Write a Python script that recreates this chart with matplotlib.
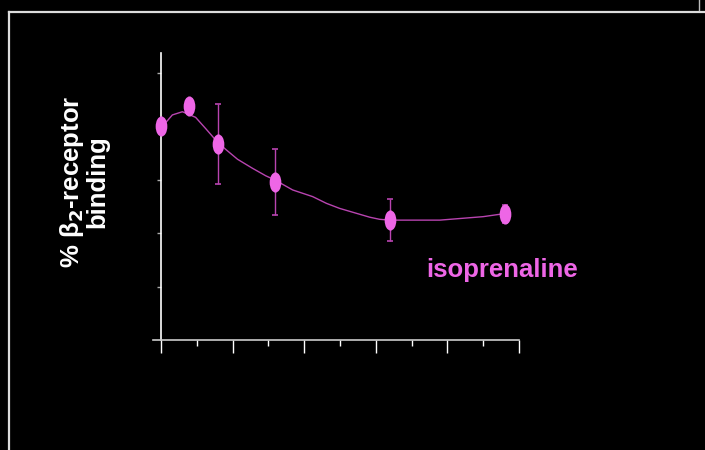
import matplotlib
matplotlib.use('Agg')
import matplotlib.pyplot as plt
from matplotlib.path import Path
from matplotlib.transforms import Affine2D
from matplotlib.lines import Line2D

# -------------------------
# Data
# -------------------------
pt_x = [0.0, 0.78, 1.6, 3.2, 6.4, 9.6]
pt_y = [80, 87.6, 73.4, 59.2, 44.9, 47.2]
pt_err = [0, 0, 15.0, 12.3, 7.9, 3.4]

fit_x = [0.0, 0.16, 0.32, 0.60, 0.97, 1.25, 1.53, 1.81, 2.14, 2.56, 2.93, 3.19,
         3.68, 4.24, 4.62, 4.99, 5.83, 6.11, 6.39, 7.79, 8.44, 9.0, 9.47, 9.61]
fit_y = [79.8, 81.8, 84.3, 85.5, 83.4, 79.2, 74.9, 71.4, 67.7, 64.3, 61.5, 59.9,
         56.2, 53.7, 51.2, 49.3, 46.0, 45.2, 44.9, 44.9, 45.6, 46.2, 47.1, 47.2]

x_major = [0, 2, 4, 6, 8, 10]
x_minor = [1, 3, 5, 7, 9]
y_ticks = [20, 40, 60, 80, 100]

label = 'isoprenaline'
ylabel = '% β$_\\mathbf{2}$-receptor\nbinding'

pink = '#EE66E6'
dark_pink = '#B844B0'

# -------------------------
# Figure
# -------------------------
W, H = 705, 450
fig = plt.figure(figsize=(7.05, 4.5), dpi=100, facecolor='black')

# slide frame
fig.add_artist(Line2D([9 / W, 9 / W], [0, 1 - 12 / H], transform=fig.transFigure,
                      color='#dddddd', lw=1.6))
fig.add_artist(Line2D([9 / W, 1], [1 - 12 / H, 1 - 12 / H], transform=fig.transFigure,
                      color='#dddddd', lw=1.6))
fig.add_artist(Line2D([699 / W, 699 / W], [1 - 10 / H, 1], transform=fig.transFigure,
                      color='#bbbbbb', lw=1.0))

ax = fig.add_axes([153 / W, 110 / H, (519 - 153) / W, (340 - 53) / H])
ax.set_facecolor('black')

ax.set_xlim(-0.22, 10)
ax.set_ylim(0, 107.5)

# ellipse marker, taller than wide
ell = Path.unit_circle().transformed(Affine2D().scale(0.58, 1.0))

ax.plot(fit_x, fit_y, color=dark_pink, lw=1.0, zorder=2)
for x, y, e in zip(pt_x, pt_y, pt_err):
    if e > 0:
        ax.errorbar(x, y, yerr=e, fmt='none', ecolor=dark_pink, elinewidth=1.0,
                    capsize=2.3, capthick=1.2, zorder=2)
ax.plot(pt_x, pt_y, linestyle='none', marker=ell, markersize=14.5,
        color=pink, markeredgewidth=0, zorder=3)

# axes styling
for side in ['top', 'right']:
    ax.spines[side].set_visible(False)
ax.spines['left'].set_position(('data', 0))
ax.spines['left'].set_color('white')
ax.spines['bottom'].set_color('#cccccc')
ax.spines['left'].set_linewidth(1.2)
ax.spines['bottom'].set_linewidth(1.2)

ax.set_xticks(x_major)
ax.set_xticks(x_minor, minor=True)
ax.set_yticks(y_ticks)
ax.tick_params(axis='x', which='major', direction='out', length=9.5, width=1.0,
               color='white', labelbottom=False)
ax.tick_params(axis='x', which='minor', direction='out', length=4.5, width=1.0,
               color='white')
ax.tick_params(axis='y', which='major', direction='out', length=3, width=1.0,
               color='#aaaaaa', labelleft=False)

ax.text(426 / W, 1 - 270 / H, label, transform=fig.transFigure, color=pink,
        fontsize=18.5, fontweight='bold', family='Liberation Sans',
        ha='left', va='center')

fig.text(84 / W, 1 - 182 / H, ylabel, color='white', fontsize=18.5,
         fontweight='bold', family='Liberation Sans', rotation=90,
         ha='center', va='center', linespacing=0.95)

fig.savefig('out.png', dpi=100, facecolor='black')
